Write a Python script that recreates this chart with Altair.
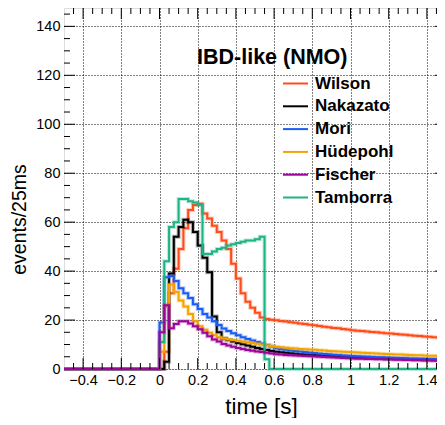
import altair as alt
import pandas as pd

# ---------------- data (25 ms bins, left edges) ----------------
bin_width = 0.025
t_start = -0.5
n_pre = 20  # bins before t=0 (all empty)

models = ["Wilson", "Nakazato", "Mori", "Hüdepohl", "Fischer", "Tamborra"]
colors = ["#ff4d1a", "#000000", "#1a5cf5", "#f5a300", "#9c0599", "#1fb386"]

wilson = [0, 7, 31, 41, 49, 57.5, 65, 67, 67.5, 63.5, 61.5, 58.5, 56, 52.5, 49, 43, 37, 31,
          27.5, 25, 23, 21, 20.4, 20.1, 19.9, 19.6, 19.4, 19.1, 18.9, 18.6, 18.4, 18.1, 17.9,
          17.6, 17.3, 17.1, 16.8, 16.6, 16.3, 16.1, 15.8, 15.6, 15.5, 15.3, 15.1, 15.0, 14.8,
          14.6, 14.5, 14.3, 14.1, 14.0, 13.8, 13.6, 13.5, 13.3, 13.2, 13.0, 12.9, 12.7]
nakazato = [0, 3, 39, 54, 58, 61, 60, 56, 50.5, 45.5, 39.5, 21.5, 15, 12.5, 11.8, 11.2, 10.6,
            10.1, 9.6, 9.1, 8.6, 8.2, 7.8, 7.4, 7.0, 6.8, 6.6, 6.4, 6.2, 6.0, 5.9, 5.8, 5.7,
            5.6, 5.5, 5.4, 5.3, 5.2, 5.1, 5.0, 4.9, 4.8, 4.7, 4.7, 4.6, 4.5, 4.5, 4.4, 4.3,
            4.3, 4.2, 4.2, 4.1, 4.0, 4.0, 3.9, 3.9, 3.8, 3.8, 3.7]
mori = [19, 37.5, 38, 36, 33, 31, 29, 26.5, 24.5, 22.5, 21, 19.5, 18, 16.5, 15.5, 14.6, 13.8,
        13.0, 12.3, 11.6, 11.0, 10.4, 9.8, 9.2, 8.5, 8.2, 7.9, 7.6, 7.4, 7.1, 6.9, 6.7, 6.5,
        6.3, 6.1, 6.0, 5.8, 5.7, 5.5, 5.4, 5.3, 5.2, 5.1, 5.0, 4.9, 4.8, 4.8, 4.7, 4.6, 4.5,
        4.5, 4.4, 4.3, 4.3, 4.2, 4.2, 4.1, 4.1, 4.0, 4.0]
huedepohl = [7, 25.5, 34.5, 31.5, 28, 25.5, 22.5, 19.5, 17.5, 16, 14.8, 13.8, 13, 12.5, 12.1,
             11.8, 11.5, 11.2, 10.9, 10.6, 10.3, 10.0, 9.7, 9.4, 9.1, 8.9, 8.7, 8.5, 8.4, 8.2,
             8.1, 8.0, 7.9, 7.7, 7.6, 7.4, 7.3, 7.2, 7.0, 6.9, 6.8, 6.7, 6.6, 6.5, 6.4, 6.3,
             6.2, 6.1, 6.0, 5.9, 5.9, 5.8, 5.7, 5.6, 5.6, 5.5, 5.4, 5.4, 5.3, 5.2]
fischer = [15, 26, 16.7, 18.4, 19.5, 19.5, 18.6, 17.5, 16.2, 14.8, 13.4, 12.1, 11.2, 10.2, 9.6,
           9.1, 8.6, 8.2, 7.8, 7.5, 7.2, 6.9, 6.6, 6.3, 6.0, 5.9, 5.7, 5.6, 5.5, 5.4, 5.3, 5.2,
           5.1, 5.0, 4.9, 4.8, 4.7, 4.6, 4.5, 4.4, 4.3, 4.2, 4.2, 4.1, 4.1, 4.0, 4.0, 3.9, 3.9,
           3.8, 3.8, 3.7, 3.7, 3.6, 3.6, 3.5, 3.5, 3.4, 3.4, 3.4]
tamborra = [11, 44, 58, 60, 69.5, 69.5, 68.5, 68, 67, 47, 47, 48, 49, 49.5, 50.5, 51, 51.5, 52,
            52.5, 52.5, 53, 54, 4, 0, 0, 0, 0, 0, 0, 0, 0, 0, 0, 0, 0, 0, 0, 0, 0, 0, 0, 0, 0,
            0, 0, 0, 0, 0, 0, 0, 0, 0, 0, 0, 0, 0, 0, 0, 0, 0]

series = {"Wilson": wilson, "Nakazato": nakazato, "Mori": mori,
          "Hüdepohl": huedepohl, "Fischer": fischer, "Tamborra": tamborra}

x_major = [-0.4, -0.2, 0.0, 0.2, 0.4, 0.6, 0.8, 1.0, 1.2, 1.4]
x_minor = [-0.45, -0.35, -0.3, -0.25, -0.15, -0.1, -0.05, 0.05, 0.1, 0.15, 0.25, 0.3, 0.35,
           0.45, 0.5, 0.55, 0.65, 0.7, 0.75, 0.85, 0.9, 0.95, 1.05, 1.1, 1.15, 1.25, 1.3,
           1.35, 1.45]
y_major = [20, 40, 60, 80, 100, 120, 140]
y_minor = [5, 10, 15, 25, 30, 35, 45, 50, 55, 65, 70, 75, 85, 90, 95, 105, 110, 115, 125,
           130, 135, 145]

# ---------------- build tables ----------------
def hist_frame(name, vals):
    full = [0.0] * n_pre + list(vals)
    ts = [round(t_start + i * bin_width, 4) for i in range(len(full))]
    ts.append(round(t_start + len(full) * bin_width, 4))
    full.append(full[-1])
    return pd.DataFrame({"t": ts, "v": full, "model": name})

W, H = 382, 361
FONT = "Liberation Sans"

xenc = alt.X("t:Q", scale=alt.Scale(domain=[-0.5, 1.5], nice=False, zero=False),
             axis=alt.Axis(values=x_major, format="~g", grid=True, gridDash=[1, 2],
                           gridColor="#000000", gridWidth=1, ticks=False, tickSize=0,
                           domain=False, labelFont=FONT, labelFontSize=14.5,
                           labelColor="black", labelPadding=4, title="time [s]",
                           titleFont=FONT, titleFontSize=22.5, titleFontWeight="normal",
                           titleColor="black", titleX=197, titleY=44,
                           titleAlign="center", titleBaseline="alphabetic"))
yenc = alt.Y("v:Q", scale=alt.Scale(domain=[0, 147.5], nice=False, zero=True),
             axis=alt.Axis(values=y_major + [0], format="d", grid=True, gridDash=[1, 2],
                           gridColor="#000000", gridWidth=1, ticks=False, tickSize=0,
                           domain=False, labelFont=FONT, labelFontSize=14.5,
                           labelColor="black", labelPadding=4, title="events/25ms",
                           titleFont=FONT, titleFontSize=19.5, titleFontWeight="normal",
                           titleColor="black", titleAngle=270, titleX=-39, titleY=211,
                           titleAlign="center", titleBaseline="alphabetic"))

legend = alt.Legend(orient="none", legendX=218, legendY=62, title=None,
                    symbolType="stroke", symbolSize=625, symbolStrokeWidth=2,
                    symbolOpacity=1, labelFont=FONT, labelFontSize=17,
                    labelFontWeight="bold", labelColor="black", labelOffset=6,
                    rowPadding=0.8, padding=0, offset=0)
cenc = alt.Color("model:N", scale=alt.Scale(domain=models, range=colors), legend=legend)

layers = []
draw_order = ["Wilson", "Nakazato", "Mori", "Hüdepohl", "Tamborra", "Fischer"]
for m in draw_order:
    d = hist_frame(m, series[m])
    base = alt.Chart(d)
    layers.append(base.mark_line(interpolate="step-after", strokeWidth=4, opacity=0.3)
                  .encode(x=xenc, y=yenc, color=cenc))
    layers.append(base.mark_line(interpolate="step-after", strokeWidth=2)
                  .encode(x=xenc, y=yenc, color=cenc))

# inward ticks (ROOT style) on all four sides
xmaj = pd.DataFrame({"t": x_major})
xmin = pd.DataFrame({"t": x_minor})
ymaj = pd.DataFrame({"v": y_major})
ymin = pd.DataFrame({"v": y_minor})
tick = dict(color="black", strokeWidth=1)
for df_, ln in ((xmaj, 11), (xmin, 6)):
    layers.append(alt.Chart(df_).mark_rule(**tick).encode(x=xenc, y=alt.value(H), y2=alt.value(H - ln)))
    layers.append(alt.Chart(df_).mark_rule(**tick).encode(x=xenc, y=alt.value(0), y2=alt.value(ln)))
for df_, ln in ((ymaj, 11), (ymin, 6)):
    layers.append(alt.Chart(df_).mark_rule(**tick).encode(y=yenc, x=alt.value(0), x2=alt.value(ln)))
    layers.append(alt.Chart(df_).mark_rule(**tick).encode(y=yenc, x=alt.value(W), x2=alt.value(W - ln)))

chart = alt.layer(*layers).properties(
    width=W, height=H,
    padding={"left": 56, "top": 0, "right": -9, "bottom": 49},
    autosize=alt.AutoSizeParams(type="none"),
    title=alt.TitleParams(text="IBD-like (NMO)", anchor="start", orient="top", frame="group",
                          font=FONT, fontSize=21.5, fontWeight="bold", color="black",
                          baseline="middle", offset=0, dx=133, dy=72),
).configure_view(stroke="black", strokeWidth=2).configure(background="white")

chart.save("out.html", embed_options={"renderer": "svg", "actions": False})
